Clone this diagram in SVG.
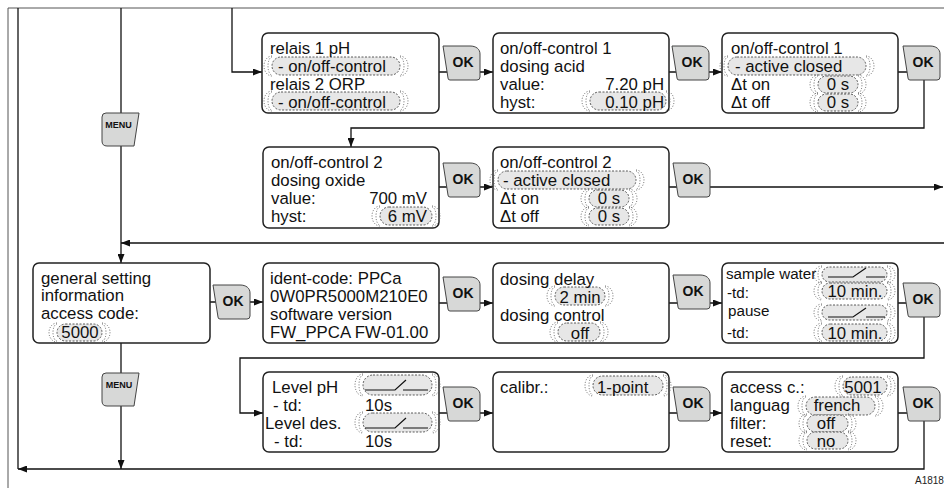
<svg xmlns="http://www.w3.org/2000/svg" xmlns:xlink="http://www.w3.org/1999/xlink" width="944" height="488" viewBox="0 0 944 488">
<style>
.box{fill:#fff;stroke:#222;stroke-width:1.5}
.t{font-family:"Liberation Sans",Arial,sans-serif;font-size:16.8px;fill:#111}
.ts{font-family:"Liberation Sans",Arial,sans-serif;font-size:15.2px;fill:#111}
.m{text-anchor:middle}
.e{text-anchor:end}
.pill{fill:#e7e7e7;stroke:#333;stroke-width:0.8;stroke-dasharray:2 1.5}
.glow{fill:none;stroke:#666;stroke-width:1;stroke-dasharray:1 1.7}
.btn{fill:#d7d8d7;stroke:#444;stroke-width:1}
.bt{font-family:"Liberation Sans",Arial,sans-serif;font-weight:bold;font-size:14px;text-anchor:middle;fill:#111}
.mt{font-family:"Liberation Sans",Arial,sans-serif;font-weight:bold;font-size:9px;text-anchor:middle;fill:#111}
.con{fill:none;stroke:#111;stroke-width:1.3}
.frame{fill:none;stroke:#555;stroke-width:1}
.sw{fill:none;stroke:#111;stroke-width:1.2}
</style>
<defs>
<marker id="ar" markerUnits="userSpaceOnUse" markerWidth="9" markerHeight="7" refX="9" refY="3.5" orient="auto"><path d="M0,0 L9,3.5 L0,7 Z" fill="#111"/></marker>
<path id="okb" d="M0,0 H27 C33,0 37,3 37,8 V31 Q37,34 34,34 H7 Q5,34 5,32 Z"/>
<path id="menub" d="M4,0 H37 L32,33 H5 Q0,33 0,28 V4 Q0,0 4,0 Z"/>
</defs>

<path class="frame" d="M8,488 V8 H944"/>

<g id="connectors">
<path class="con" d="M18,8 V469"/>
<path class="con" d="M232,8 V72 H262" marker-end="url(#ar)"/>
<path class="con" d="M439,72 H493" marker-end="url(#ar)"/>
<path class="con" d="M669,72 H722" marker-end="url(#ar)"/>
<path class="con" d="M898,72 H924 V128 H351 V147" marker-end="url(#ar)"/>
<path class="con" d="M439,187 H493" marker-end="url(#ar)"/>
<path class="con" d="M669,187 H943" marker-end="url(#ar)"/>
<path class="con" d="M944,243 H121" marker-end="url(#ar)"/>
<path class="con" d="M121,8 V263" marker-end="url(#ar)"/>
<path class="con" d="M210,302 H263" marker-end="url(#ar)"/>
<path class="con" d="M439,303 H493" marker-end="url(#ar)"/>
<path class="con" d="M669,303 H722" marker-end="url(#ar)"/>
<path class="con" d="M898,303 H924 V358 H240 V413 H263" marker-end="url(#ar)"/>
<path class="con" d="M439,413 H493" marker-end="url(#ar)"/>
<path class="con" d="M669,413 H722" marker-end="url(#ar)"/>
<path class="con" d="M898,413 H924 V469 H18" marker-end="url(#ar)"/>
<path class="con" d="M121,343 V469" marker-end="url(#ar)"/>
</g>

<g id="menu1"><use xlink:href="#menub" class="btn" x="102" y="113"/><text class="mt" x="118.5" y="128">MENU</text></g>
<g id="menu2"><use xlink:href="#menub" class="btn" x="102" y="373"/><text class="mt" x="119" y="388">MENU</text></g>

<g id="ok1"><use xlink:href="#okb" class="btn" x="443" y="46"/><text class="bt" x="463" y="67">OK</text></g>
<g id="ok2"><use xlink:href="#okb" class="btn" x="672" y="46"/><text class="bt" x="692" y="67">OK</text></g>
<g id="ok3"><use xlink:href="#okb" class="btn" x="903" y="46"/><text class="bt" x="923" y="67">OK</text></g>
<g id="ok4"><use xlink:href="#okb" class="btn" x="443" y="163"/><text class="bt" x="463" y="184">OK</text></g>
<g id="ok5"><use xlink:href="#okb" class="btn" x="673" y="163"/><text class="bt" x="693" y="184">OK</text></g>
<g id="ok6"><use xlink:href="#okb" class="btn" x="213" y="285"/><text class="bt" x="233" y="306">OK</text></g>
<g id="ok7"><use xlink:href="#okb" class="btn" x="443" y="277"/><text class="bt" x="463" y="298">OK</text></g>
<g id="ok8"><use xlink:href="#okb" class="btn" x="673" y="275"/><text class="bt" x="693" y="296">OK</text></g>
<g id="ok9"><use xlink:href="#okb" class="btn" x="903" y="283"/><text class="bt" x="923" y="304">OK</text></g>
<g id="ok10"><use xlink:href="#okb" class="btn" x="443" y="387"/><text class="bt" x="463" y="408">OK</text></g>
<g id="ok11"><use xlink:href="#okb" class="btn" x="673" y="387"/><text class="bt" x="693" y="408">OK</text></g>
<g id="ok12"><use xlink:href="#okb" class="btn" x="903" y="387"/><text class="bt" x="923" y="408">OK</text></g>

<g id="relais">
<rect class="box" x="262" y="33" width="177" height="80" rx="6"/>
<rect class="pill" x="272" y="57" width="128" height="18" rx="9"/>
<path class="glow" d="M272,57A4,9 0 0 0 272,75M272,56A8,10 0 0 0 272,76M400,57A4,9 0 0 1 400,75M400,56A8,10 0 0 1 400,76"/>
<rect class="pill" x="272" y="92" width="128" height="18" rx="9"/>
<path class="glow" d="M272,92A4,9 0 0 0 272,110M272,91A8,10 0 0 0 272,111M400,92A4,9 0 0 1 400,110M400,91A8,10 0 0 1 400,111"/>
<text class="t" x="270" y="54">relais 1 pH</text>
<text class="t" x="278" y="72">- on/off-control</text>
<text class="t" x="270" y="90">relais 2 ORP</text>
<text class="t" x="278" y="108">- on/off-control</text>
</g>

<g id="onoff1-acid">
<rect class="box" x="493" y="33" width="176" height="80" rx="6"/>
<rect class="pill" x="590" y="92" width="76" height="18" rx="9"/>
<path class="glow" d="M590,92A4,9 0 0 0 590,110M590,91A8,10 0 0 0 590,111M666,92A4,9 0 0 1 666,110M666,91A8,10 0 0 1 666,111"/>
<text class="t" x="500" y="54">on/off-control 1</text>
<text class="t" x="500" y="72">dosing acid</text>
<text class="t" x="500" y="90">value:</text>
<text class="t e" x="664" y="90">7.20 pH</text>
<text class="t" x="500" y="108">hyst:</text>
<text class="t e" x="664" y="108">0.10 pH</text>
</g>

<g id="onoff1-active">
<rect class="box" x="722" y="33" width="176" height="80" rx="6"/>
<rect class="pill" x="728" y="57" width="138" height="18" rx="9"/>
<path class="glow" d="M728,57A4,9 0 0 0 728,75M728,56A8,10 0 0 0 728,76M866,57A4,9 0 0 1 866,75M866,56A8,10 0 0 1 866,76"/>
<rect class="pill" x="818" y="76" width="40" height="17" rx="8.5"/>
<path class="glow" d="M818,76A4,8.5 0 0 0 818,93M818,75A8,9.5 0 0 0 818,94M858,76A4,8.5 0 0 1 858,93M858,75A8,9.5 0 0 1 858,94"/>
<rect class="pill" x="818" y="94" width="40" height="17" rx="8.5"/>
<path class="glow" d="M818,94A4,8.5 0 0 0 818,111M818,93A8,9.5 0 0 0 818,112M858,94A4,8.5 0 0 1 858,111M858,93A8,9.5 0 0 1 858,112"/>
<text class="t" x="731" y="54">on/off-control 1</text>
<text class="t" x="735" y="72">- active closed</text>
<text class="t" x="731" y="90">Δt on</text>
<text class="t m" x="838" y="90">0 s</text>
<text class="t" x="731" y="108">Δt off</text>
<text class="t m" x="838" y="108">0 s</text>
</g>

<g id="onoff2-oxide">
<rect class="box" x="263" y="147" width="176" height="81" rx="6"/>
<rect class="pill" x="380" y="207" width="52" height="18" rx="9"/>
<path class="glow" d="M380,207A4,9 0 0 0 380,225M380,206A8,10 0 0 0 380,226M432,207A4,9 0 0 1 432,225M432,206A8,10 0 0 1 432,226"/>
<text class="t" x="271" y="168">on/off-control 2</text>
<text class="t" x="271" y="186">dosing oxide</text>
<text class="t" x="271" y="204">value:</text>
<text class="t e" x="427" y="204">700 mV</text>
<text class="t" x="271" y="222">hyst:</text>
<text class="t e" x="427" y="222">6 mV</text>
</g>

<g id="onoff2-active">
<rect class="box" x="493" y="147" width="176" height="81" rx="6"/>
<rect class="pill" x="498" y="171" width="138" height="18" rx="9"/>
<path class="glow" d="M498,171A4,9 0 0 0 498,189M498,170A8,10 0 0 0 498,190M636,171A4,9 0 0 1 636,189M636,170A8,10 0 0 1 636,190"/>
<rect class="pill" x="589" y="190" width="40" height="17" rx="8.5"/>
<path class="glow" d="M589,190A4,8.5 0 0 0 589,207M589,189A8,9.5 0 0 0 589,208M629,190A4,8.5 0 0 1 629,207M629,189A8,9.5 0 0 1 629,208"/>
<rect class="pill" x="589" y="208" width="40" height="17" rx="8.5"/>
<path class="glow" d="M589,208A4,8.5 0 0 0 589,225M589,207A8,9.5 0 0 0 589,226M629,208A4,8.5 0 0 1 629,225M629,207A8,9.5 0 0 1 629,226"/>
<text class="t" x="500" y="168">on/off-control 2</text>
<text class="t" x="503" y="186">- active closed</text>
<text class="t" x="500" y="204">Δt on</text>
<text class="t m" x="609" y="204">0 s</text>
<text class="t" x="500" y="222">Δt off</text>
<text class="t m" x="609" y="222">0 s</text>
</g>

<g id="general">
<rect class="box" x="33" y="263" width="177" height="80" rx="6"/>
<rect class="pill" x="57" y="324" width="45" height="17" rx="8.5"/>
<path class="glow" d="M57,324A4,8.5 0 0 0 57,341M57,323A8,9.5 0 0 0 57,342M102,324A4,8.5 0 0 1 102,341M102,323A8,9.5 0 0 1 102,342"/>
<text class="t" x="41" y="283.5">general setting</text>
<text class="t" x="41" y="301">information</text>
<text class="t" x="41" y="319">access code:</text>
<text class="t m" x="80" y="338">5000</text>
</g>

<g id="ident">
<rect class="box" x="263" y="263" width="176" height="80" rx="6"/>
<text class="t" x="270" y="284">ident-code: PPCa</text>
<text class="t" x="270" y="302">0W0PR5000M210E0</text>
<text class="t" x="270" y="320">software version</text>
<text class="t" x="270" y="338">FW_PPCA FW-01.00</text>
</g>

<g id="dosing">
<rect class="box" x="493" y="263" width="176" height="80" rx="6"/>
<rect class="pill" x="555" y="287" width="50" height="18" rx="9"/>
<path class="glow" d="M555,287A4,9 0 0 0 555,305M555,286A8,10 0 0 0 555,306M605,287A4,9 0 0 1 605,305M605,286A8,10 0 0 1 605,306"/>
<rect class="pill" x="558" y="323" width="42" height="18" rx="9"/>
<path class="glow" d="M558,323A4,9 0 0 0 558,341M558,322A8,10 0 0 0 558,342M600,323A4,9 0 0 1 600,341M600,322A8,10 0 0 1 600,342"/>
<text class="t" x="500" y="285">dosing delay</text>
<text class="t m" x="580" y="303">2 min</text>
<text class="t" x="500" y="321">dosing control</text>
<text class="t m" x="580" y="339">off</text>
</g>

<g id="sample">
<rect class="box" x="722" y="263" width="176" height="80" rx="6"/>
<rect class="pill" x="822" y="267" width="65" height="15" rx="7.5"/>
<path class="glow" d="M822,267A4,7.5 0 0 0 822,282M822,266A8,8.5 0 0 0 822,283M887,267A4,7.5 0 0 1 887,282M887,266A8,8.5 0 0 1 887,283"/>
<rect class="pill" x="822" y="283" width="65" height="16" rx="8"/>
<path class="glow" d="M822,283A4,8 0 0 0 822,299M822,282A8,9 0 0 0 822,300M887,283A4,8 0 0 1 887,299M887,282A8,9 0 0 1 887,300"/>
<rect class="pill" x="822" y="305" width="65" height="15" rx="7.5"/>
<path class="glow" d="M822,305A4,7.5 0 0 0 822,320M822,304A8,8.5 0 0 0 822,321M887,305A4,7.5 0 0 1 887,320M887,304A8,8.5 0 0 1 887,321"/>
<rect class="pill" x="822" y="324" width="65" height="17" rx="8.5"/>
<path class="glow" d="M822,324A4,8.5 0 0 0 822,341M822,323A8,9.5 0 0 0 822,342M887,324A4,8.5 0 0 1 887,341M887,323A8,9.5 0 0 1 887,342"/>
<path class="sw" d="M828,277 H853 L866,268 M866,277 H885"/>
<path class="sw" d="M828,317 H853 L866,308 M866,317 H885"/>
<text class="ts" x="726" y="279">sample water</text>
<text class="ts" x="727" y="298"> -td:</text>
<text class="ts" x="728" y="316">pause</text>
<text class="ts" x="727" y="338"> -td:</text>
<text class="t m" x="855" y="297">10 min.</text>
<text class="t m" x="855" y="339">10 min.</text>
</g>

<g id="level">
<rect class="box" x="263" y="372" width="176" height="80" rx="6"/>
<rect class="pill" x="363" y="375" width="69" height="20" rx="10"/>
<path class="glow" d="M363,375A4,10 0 0 0 363,395M363,374A8,11 0 0 0 363,396M432,375A4,10 0 0 1 432,395M432,374A8,11 0 0 1 432,396"/>
<rect class="pill" x="363" y="413" width="69" height="19" rx="9.5"/>
<path class="glow" d="M363,413A4,9.5 0 0 0 363,432M363,412A8,10.5 0 0 0 363,433M432,413A4,9.5 0 0 1 432,432M432,412A8,10.5 0 0 1 432,433"/>
<path class="sw" d="M365,390 H395 L406,380 M403,390 H428"/>
<path class="sw" d="M365,428 H395 L406,418 M403,428 H428"/>
<text class="t" x="272" y="392.5">Level pH</text>
<text class="t" x="273" y="410.5">- td:</text>
<text class="t" x="365" y="411">10s</text>
<text class="t" x="265" y="428.5">Level des.</text>
<text class="t" x="274" y="446.5">- td:</text>
<text class="t" x="365" y="446.5">10s</text>
</g>

<g id="calibr">
<rect class="box" x="493" y="372" width="176" height="80" rx="6"/>
<rect class="pill" x="593" y="376" width="70" height="19" rx="9.5"/>
<path class="glow" d="M593,376A4,9.5 0 0 0 593,395M593,375A8,10.5 0 0 0 593,396M663,376A4,9.5 0 0 1 663,395M663,375A8,10.5 0 0 1 663,396"/>
<text class="t" x="500" y="393">calibr.:</text>
<text class="t" x="597" y="393">1-point</text>
</g>

<g id="access">
<rect class="box" x="722" y="372" width="176" height="80" rx="6"/>
<rect class="pill" x="843" y="377" width="44" height="18" rx="9"/>
<path class="glow" d="M843,377A4,9 0 0 0 843,395M843,376A8,10 0 0 0 843,396M887,377A4,9 0 0 1 887,395M887,376A8,10 0 0 1 887,396"/>
<rect class="pill" x="806" y="397" width="69" height="18" rx="9"/>
<path class="glow" d="M806,397A4,9 0 0 0 806,415M806,396A8,10 0 0 0 806,416M875,397A4,9 0 0 1 875,415M875,396A8,10 0 0 1 875,416"/>
<rect class="pill" x="807" y="415" width="41" height="17" rx="8.5"/>
<path class="glow" d="M807,415A4,8.5 0 0 0 807,432M807,414A8,9.5 0 0 0 807,433M848,415A4,8.5 0 0 1 848,432M848,414A8,9.5 0 0 1 848,433"/>
<rect class="pill" x="807" y="432" width="41" height="17" rx="8.5"/>
<path class="glow" d="M807,432A4,8.5 0 0 0 807,449M807,431A8,9.5 0 0 0 807,450M848,432A4,8.5 0 0 1 848,449M848,431A8,9.5 0 0 1 848,450"/>
<text class="t" x="730" y="392.5">access c.:</text>
<text class="t m" x="863" y="392.5">5001</text>
<text class="t" x="730" y="410.5">languag</text>
<text class="t m" x="837" y="411">french</text>
<text class="t" x="730" y="428.5">filter:</text>
<text class="t m" x="826" y="429">off</text>
<text class="t" x="730" y="446.5">reset:</text>
<text class="t m" x="826" y="446.5">no</text>
</g>

<text x="915" y="484" font-family="Liberation Sans, Arial, sans-serif" font-size="10" fill="#222">A1818</text>
</svg>
